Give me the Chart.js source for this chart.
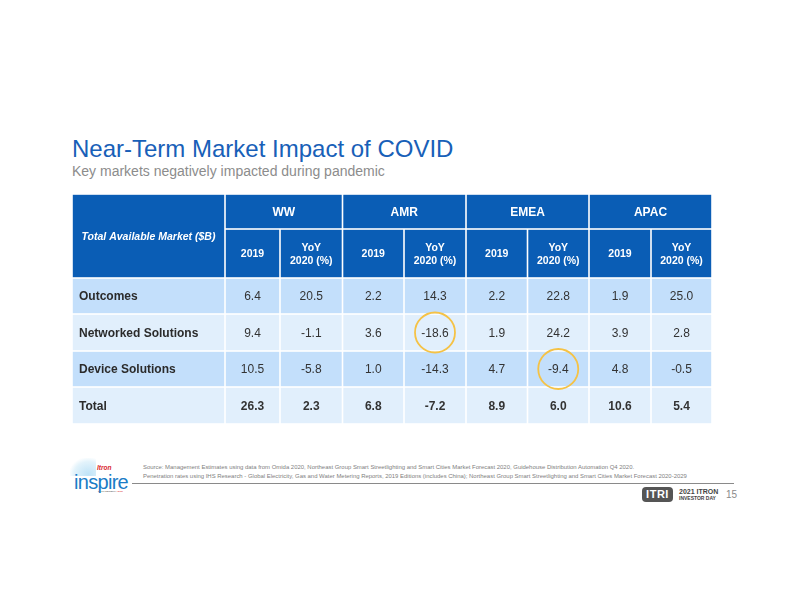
<!DOCTYPE html>
<html>
<head>
<meta charset="utf-8">
<script src="https://cdn.jsdelivr.net/npm/chart.js@4/dist/chart.umd.min.js"></script>
<style>
  body { margin: 0; background: #fff; font-family: "Liberation Sans", Arial, sans-serif; }
  #page { position: relative; width: 792px; height: 612px; overflow: hidden; background: #fff; }
  .abs { position: absolute; white-space: nowrap; line-height: 1; }
  #title { left: 72px; top: 137px; font-size: 24px; color: #1860b8; }
  #subtitle { left: 72px; top: 164px; font-size: 14px; color: #8c8c8c; }
  #tableWrap { position: absolute; left: 72px; top: 194px; width: 640px; height: 230px; }
  .src { left: 143px; font-size: 5.95px; color: #808080; }
  #rule { position: absolute; left: 132px; top: 483px; width: 602px; height: 1px; background: #8a8a8a; }
  #itri { position: absolute; left: 642px; top: 487px; width: 31px; height: 15px; background: #555; border-radius: 4px;
          color: #fff; font-weight: bold; font-size: 11px; line-height: 15px; text-align: center; letter-spacing: 0.5px; }
</style>
</head>
<body>
<div id="page">
  <div id="title" class="abs">Near-Term Market Impact of COVID</div>
  <div id="subtitle" class="abs">Key markets negatively impacted during pandemic</div>

  <div id="tableWrap"><canvas id="marketTable" width="640" height="230"></canvas></div>

  <!-- footer -->
  <div class="abs" style="left:70px;top:458px;width:26px;height:18px;background:radial-gradient(ellipse at 70% 90%, #bfe3f7 0%, #e3f3fb 55%, rgba(255,255,255,0) 75%);"></div>
  <div class="abs" style="left:97px;top:465px;font-size:6.5px;font-weight:bold;font-style:italic;color:#d9262b;">Itron</div>
  <div class="abs" style="left:74px;top:472px;font-size:20px;color:#1a7cc6;letter-spacing:-0.7px;">inspire</div>
  <div class="abs" style="left:98px;top:491px;font-size:2.5px;color:#555;">PALM DESERT <span style="color:#d9262b">| 2021</span></div>

  <div class="abs src" style="top:465px;">Source: Management Estimates using data from Omida 2020, Northeast Group Smart Streetlighting and Smart Cities Market Forecast 2020, Guidehouse Distribution Automation Q4 2020.</div>
  <div class="abs src" style="top:474px;">Penetration rates using IHS Research - Global Electricity, Gas and Water Metering Reports, 2019 Editions (includes China); Northeast Group Smart Streetlighting and Smart Cities Market Forecast 2020-2029</div>
  <div id="rule"></div>

  <div id="itri">ITRI</div>
  <div class="abs" style="left:679px;top:488px;font-size:7px;font-weight:bold;color:#444;">2021 ITRON</div>
  <div class="abs" style="left:679px;top:496px;font-size:5px;font-weight:bold;color:#444;">INVESTOR DAY</div>
  <div class="abs" style="left:726px;top:490px;font-size:10px;color:#8a8a8a;">15</div>
</div>

<script>
// ---- data ----
const cornerLabel = 'Total Available Market ($B)'
const regions = ['WW', 'AMR', 'EMEA', 'APAC']
const subHeaders = [['2019'], ['YoY', '2020 (%)']]
const rowLabels = ['Outcomes', 'Networked Solutions', 'Device Solutions', 'Total']

const ww2019 = [6.4, 9.4, 10.5, 26.3]
const wwYoy = [20.5, -1.1, -5.8, 2.3]
const amr2019 = [2.2, 3.6, 1.0, 6.8]
const amrYoy = [14.3, -18.6, -14.3, -7.2]
const emea2019 = [2.2, 1.9, 4.7, 8.9]
const emeaYoy = [22.8, 24.2, -9.4, 6.0]
const apac2019 = [1.9, 3.9, 4.8, 10.6]
const apacYoy = [25.0, 2.8, -0.5, 5.4]

// cells circled on the slide (YoY column of the region)
const circledCells = [
    { row: 'Networked Solutions', region: 'AMR' },
    { row: 'Device Solutions', region: 'EMEA' }
]

// ---- layout (table units) ----
const colWidths = [153, 55, 62.5, 61.5, 62, 61.5, 61.5, 62, 61]
const rowHeights = [35, 49, 36, 37, 36, 37]

const dataCols = [ww2019, wwYoy, amr2019, amrYoy, emea2019, emeaYoy, apac2019, apacYoy]
const colEdge = colWidths.reduce((a, w) => (a.push(a[a.length - 1] + w), a), [0])
const rowEdge = rowHeights.reduce((a, h) => (a.push(a[a.length - 1] + h), a), [0])

const HEADER_BLUE = '#0a5db5'
const ROW_DARK = '#c3dffb'
const ROW_LIGHT = '#e1effc'
const FONT = '"Liberation Sans", Arial, sans-serif'

const circlePoints = circledCells.map(c => {
    const col = 2 + 2 * regions.indexOf(c.region)
    const row = 2 + rowLabels.indexOf(c.row)
    return { x: colEdge[col] + colWidths[col] / 2, y: rowEdge[row] + rowHeights[row] / 2 }
})

const tablePlugin = {
    id: 'tableCells',
    beforeDatasetsDraw(chart) {
        const { ctx, scales: { x, y } } = chart
        const gap = 0.8

        const box = (c0, c1, r0, r1) => {
            const left = x.getPixelForValue(colEdge[c0])
            const right = x.getPixelForValue(colEdge[c1])
            const top = y.getPixelForValue(rowEdge[r0])
            const bottom = y.getPixelForValue(rowEdge[r1])
            return { left, right, top, bottom, cx: (left + right) / 2, cy: (top + bottom) / 2 }
        }
        const fillCell = (b, color) => {
            ctx.fillStyle = color
            ctx.fillRect(b.left + gap, b.top + gap, b.right - b.left - 2 * gap, b.bottom - b.top - 2 * gap)
        }
        const write = (str, px, py, font, color, align) => {
            ctx.font = font
            ctx.fillStyle = color
            ctx.textAlign = align || 'center'
            ctx.textBaseline = 'middle'
            ctx.fillText(str, px, py)
        }

        ctx.save()

        // header: corner cell
        let b = box(0, 1, 0, 2)
        fillCell(b, HEADER_BLUE)
        write(cornerLabel, b.cx, b.cy + 1, 'italic bold 10.5px ' + FONT, '#fff')

        // header: regions + sub columns
        regions.forEach((reg, i) => {
            b = box(1 + 2 * i, 3 + 2 * i, 0, 1)
            fillCell(b, HEADER_BLUE)
            write(reg, b.cx, b.cy + 1, 'bold 12px ' + FONT, '#fff')
            subHeaders.forEach((lines, j) => {
                const sb = box(1 + 2 * i + j, 2 + 2 * i + j, 1, 2)
                fillCell(sb, HEADER_BLUE)
                lines.forEach((ln, k) => {
                    const off = (k - (lines.length - 1) / 2) * 12.5
                    write(ln, sb.cx, sb.cy + off + 1, 'bold 10.5px ' + FONT, '#fff')
                })
            })
        })

        // body rows
        rowLabels.forEach((label, r) => {
            const bg = r % 2 === 0 ? ROW_DARK : ROW_LIGHT
            const isTotal = label === 'Total'
            b = box(0, 1, 2 + r, 3 + r)
            fillCell(b, bg)
            write(label, b.left + 7, b.cy + 1, 'bold 12px ' + FONT, '#2b2b2b', 'left')
            dataCols.forEach((vals, c) => {
                const cb = box(1 + c, 2 + c, 2 + r, 3 + r)
                fillCell(cb, bg)
                write(vals[r].toFixed(1), cb.cx, cb.cy + 1,
                    (isTotal ? 'bold ' : '') + '12px ' + FONT, '#333', 'center')
            })
        })

        ctx.restore()
    }
}

new Chart(document.getElementById('marketTable'), {
    type: 'scatter',
    data: {
        datasets: [{
            label: 'circled',
            data: circlePoints,
            pointRadius: 20,
            pointHoverRadius: 20,
            pointBorderWidth: 1.8,
            borderColor: '#f5c245',
            backgroundColor: 'rgba(0,0,0,0)',
            clip: false
        }]
    },
    options: {
        responsive: false,
        animation: false,
        events: [],
        layout: { padding: 0, autoPadding: false },
        scales: {
            x: { type: 'linear', display: false, min: 0, max: colEdge[colEdge.length - 1] },
            y: { type: 'linear', display: false, min: 0, max: rowEdge[rowEdge.length - 1], reverse: true }
        },
        plugins: {
            legend: { display: false },
            tooltip: { enabled: false }
        }
    },
    plugins: [tablePlugin]
})
</script>
</body>
</html>
